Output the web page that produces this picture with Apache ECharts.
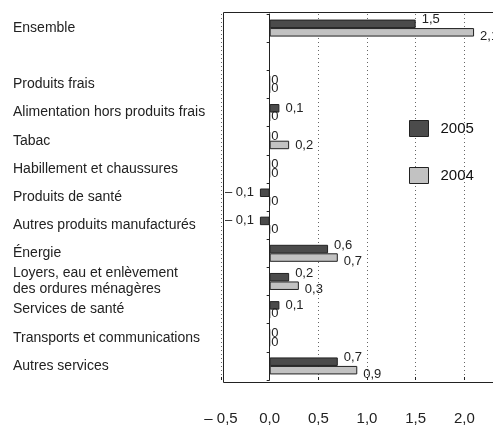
<!DOCTYPE html>
<html>
<head>
<meta charset="utf-8">
<script src="https://cdn.jsdelivr.net/npm/echarts@6/dist/echarts.min.js"></script>
<style>
  html, body { margin: 0; padding: 0; background: #fff; }
  #chart { width: 493px; height: 426px; }
</style>
</head>
<body>
<div id="chart"></div>
<script>
// categories, top to bottom (empty slot between Ensemble and the detail)
const categories = [
    'Ensemble',
    '',
    'Produits frais',
    'Alimentation hors produits frais',
    'Tabac',
    'Habillement et chaussures',
    'Produits de santé',
    'Autres produits manufacturés',
    'Énergie',
    'Loyers, eau et enlèvement\ndes ordures ménagères',
    'Services de santé',
    'Transports et communications',
    'Autres services'
]
const values2005 = [1.5, null, 0, 0.1, 0, 0, -0.1, -0.1, 0.6, 0.2, 0.1, 0, 0.7]
const values2004 = [2.1, null, 0, 0, 0.2, 0, 0, 0, 0.7, 0.3, 0, 0, 0.9]
const xTicks = { min: -0.5, max: 2.5, step: 0.5 }

const font = '"Liberation Sans", Arial, sans-serif'

function fr(v) {
    const s = Math.abs(v).toFixed(1).replace('.', ',')
    return v < 0 ? '– ' + s : s
}
function frShort(v) {
    if (v === 0) return '0'
    return v < 0 ? '– ' + String(Math.abs(v)).replace('.', ',') : String(v).replace('.', ',')
}

// shift the two labels apart when both bars of a row carry a value
function items(arr, other, dy) {
    return arr.map((v, i) => {
        if (v === null) return null
        const both = v !== 0 && other[i] !== 0
        return {
            value: v,
            label: {
                position: v < 0 ? 'left' : 'right',
                distance: v === 0 ? 1 : 6,
                offset: [0, both ? dy : 0]
            }
        }
    })
}

const labelStyle = {
    show: true,
    fontFamily: font,
    fontSize: 13,
    color: '#222',
    formatter: p => frShort(p.value)
}

const chart = echarts.init(document.getElementById('chart'))
chart.setOption({
    animation: false,
    textStyle: { fontFamily: font },
    grid: {
        left: 221,
        right: -20,
        top: 14,
        bottom: 46,
        show: false,
        containLabel: false,
        outerBoundsMode: 'none'
    },
    graphic: [{
        type: 'rect',
        left: 221,
        top: 10,
        z: 0,
        shape: { width: 300, height: 370 },
        style: { fill: 'none', stroke: '#222', lineWidth: 1 }
    }],
    legend: {
        orient: 'vertical',
        left: 404,
        top: 115,
        icon: 'rect',
        itemWidth: 19,
        itemHeight: 16,
        itemGap: 30,
        data: ['2005', '2004'],
        itemStyle: { borderColor: '#222', borderWidth: 1 },
        textStyle: { fontFamily: font, fontSize: 15, color: '#111', padding: [0, 0, 0, 7] }
    },
    xAxis: {
        type: 'value',
        min: xTicks.min,
        max: xTicks.max,
        interval: xTicks.step,
        axisLine: { show: false },
        axisTick: { show: true, inside: true, length: 3, lineStyle: { color: '#222' } },
        splitLine: { show: true, lineStyle: { color: '#666', type: [1, 3], width: 1 } },
        axisLabel: {
            margin: 31,
            fontFamily: font,
            fontSize: 15,
            color: '#222',
            formatter: v => fr(v)
        }
    },
    yAxis: {
        type: 'category',
        inverse: true,
        data: categories,
        axisLine: { show: true, onZero: true, lineStyle: { color: '#222', width: 1 } },
        axisTick: { show: true, length: 3, lineStyle: { color: '#222' } },
        splitLine: { show: false },
        axisLabel: {
            interval: 0,
            align: 'left',
            margin: 208,
            fontFamily: font,
            fontSize: 14,
            lineHeight: 16,
            color: '#222'
        }
    },
    series: [
        {
            name: '2005',
            type: 'bar',
            barWidth: 8.5,
            barGap: 0,
            itemStyle: { color: '#4b4b4b', borderColor: '#222', borderWidth: 1 },
            label: labelStyle,
            data: items(values2005, values2004, -4)
        },
        {
            name: '2004',
            type: 'bar',
            barWidth: 8.5,
            barGap: 0,
            itemStyle: { color: '#c2c2c2', borderColor: '#222', borderWidth: 1 },
            label: labelStyle,
            data: items(values2004, values2005, 4)
        }
    ]
})
</script>
</body>
</html>
